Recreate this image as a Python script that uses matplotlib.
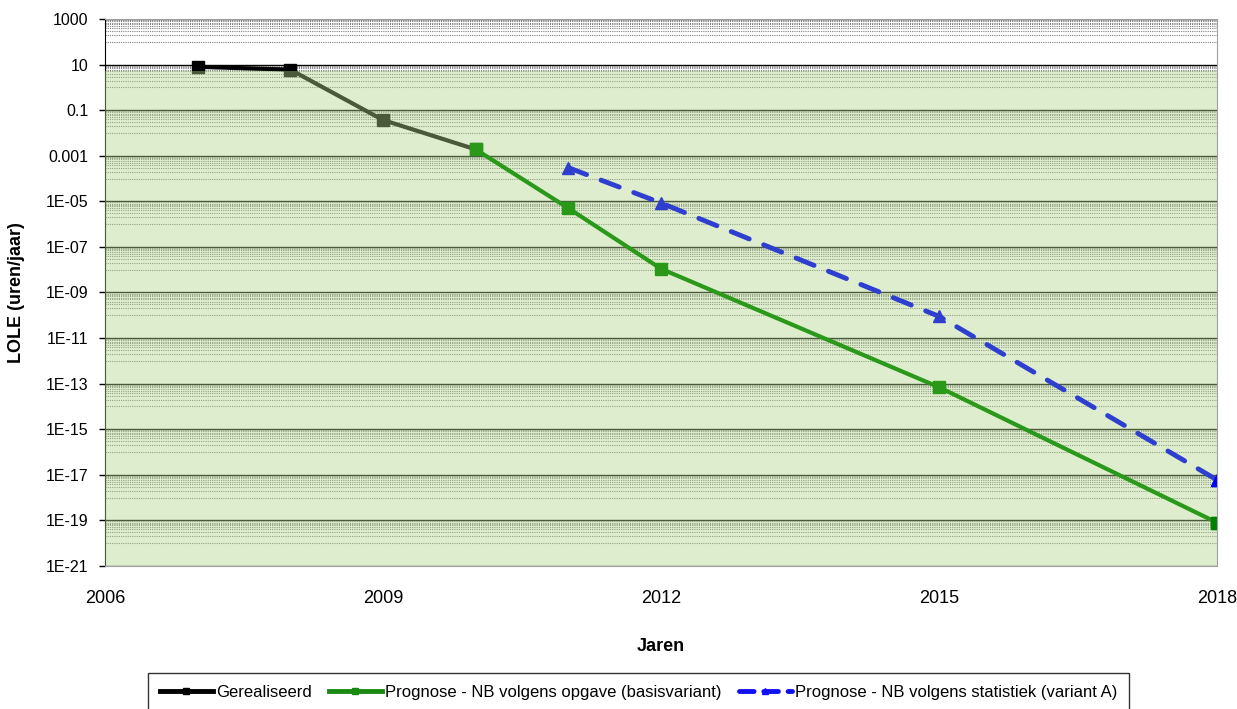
import matplotlib.pyplot as plt
import numpy as np
from matplotlib.lines import Line2D
from matplotlib.ticker import FixedLocator, FuncFormatter, NullFormatter

plt.rcParams['font.family'] = ['Liberation Sans', 'DejaVu Sans']

# data
jaren_real = [2007, 2008, 2009, 2010]
lole_real = [8.0, 6.0, 0.037, 0.0019]

jaren_basis = [2010, 2011, 2012, 2015, 2018]
lole_basis = [0.0019, 5e-6, 1.1e-8, 7e-14, 8e-20]

jaren_stat = [2011, 2012, 2015, 2018]
lole_stat = [3e-4, 8.5e-6, 9e-11, 6e-18]

labels = ['Gerealiseerd',
          'Prognose - NB volgens opgave (basisvariant)',
          'Prognose - NB volgens statistiek (variant A)']

c_black = '#000000'
c_green = '#2A991A'
c_blue = '#2E3FD0'

fig = plt.figure(figsize=(12.37, 7.09), dpi=100)
ax = fig.add_axes([0.0849, 0.2017, 0.8989, 0.7715])

ax.set_yscale('log')
ax.set_ylim(1e-21, 1000)
ax.set_xlim(2006, 2018)

# major every two decades, dotted minor lines in the decade below each major
majors = 10.0 ** np.arange(-21, 4, 2)
minors = []
for e in range(-19, 4, 2):
    for j in range(1, 10):
        minors.append(j * 10.0 ** (e - 1))
ax.yaxis.set_major_locator(FixedLocator(majors))
ax.yaxis.set_minor_locator(FixedLocator(minors))


def fmt(v, pos):
    e = int(round(np.log10(v)))
    if e >= 0:
        return str(int(round(v)))
    if e >= -3:
        return ('%.' + str(-e) + 'f') % v
    return '1E-%02d' % (-e)


ax.yaxis.set_major_formatter(FuncFormatter(fmt))
ax.yaxis.set_minor_formatter(NullFormatter())
ax.set_xticks([2006, 2009, 2012, 2015, 2018])

ax.grid(True, which='major', axis='y', color='black', lw=1.0, zorder=0.5)
ax.grid(True, which='minor', axis='y', color='#7f7f7f', lw=0.8,
        linestyle=(0, (1, 1)), zorder=0.5)
ax.set_axisbelow(True)

ax.tick_params(axis='y', which='major', length=4, width=1, direction='out',
               labelsize=11.5, pad=8)
ax.tick_params(axis='y', which='minor', length=0)
ax.tick_params(axis='x', length=0, labelsize=13, pad=17)

# black series drawn under the green area
ax.plot(jaren_real, lole_real, '-s', color=c_black, lw=3, ms=8, zorder=1)

ax.axhspan(1e-21, 5.5, color=(176/255, 214/255, 138/255), alpha=0.42,
           lw=0, zorder=2)

ax.plot(jaren_basis, lole_basis, '-s', color=c_green, lw=3, ms=8, zorder=3)
ax.plot(jaren_basis[-1], lole_basis[-1], 's', color='#008000', ms=8, zorder=3.1)
ax.plot(jaren_stat, lole_stat, '--^', color=c_blue, lw=3.5, ms=9,
        dashes=(4, 3.2), dash_capstyle='round', zorder=4)
ax.plot(jaren_stat[-1], lole_stat[-1], '^', color='#0000FF', ms=9, zorder=4.1)

for s in ['top', 'right', 'bottom']:
    ax.spines[s].set_color('#a0a0a0')
    ax.spines[s].set_zorder(5)
ax.spines['left'].set_color('black')
ax.spines['left'].set_zorder(1.5)

ax.set_ylabel('LOLE (uren/jaar)', fontsize=13, fontweight='bold')
ax.yaxis.set_label_coords(-0.072, 0.5)
ax.set_xlabel('Jaren', fontsize=13, fontweight='bold')
ax.xaxis.set_label_coords(0.5, -0.1316)

handles = [
    Line2D([], [], color=c_black, lw=3.5, marker='s', ms=5),
    Line2D([], [], color='#1A8A10', lw=3.5, marker='s', ms=5),
    Line2D([], [], color='#1010F0', lw=3.5, marker='^', ms=5,
           dashes=(3, 2), dash_capstyle='round'),
]
leg = fig.legend(handles, labels, loc='upper left',
                 bbox_to_anchor=(0.1196, 0.0508),
                 ncol=3, fontsize=12, frameon=True, fancybox=False,
                 edgecolor='black', handlelength=3.2, columnspacing=1.0,
                 handletextpad=0.2, borderpad=0.7, borderaxespad=0)
leg.get_frame().set_linewidth(1.0)

plt.savefig('out.png', dpi=100)
